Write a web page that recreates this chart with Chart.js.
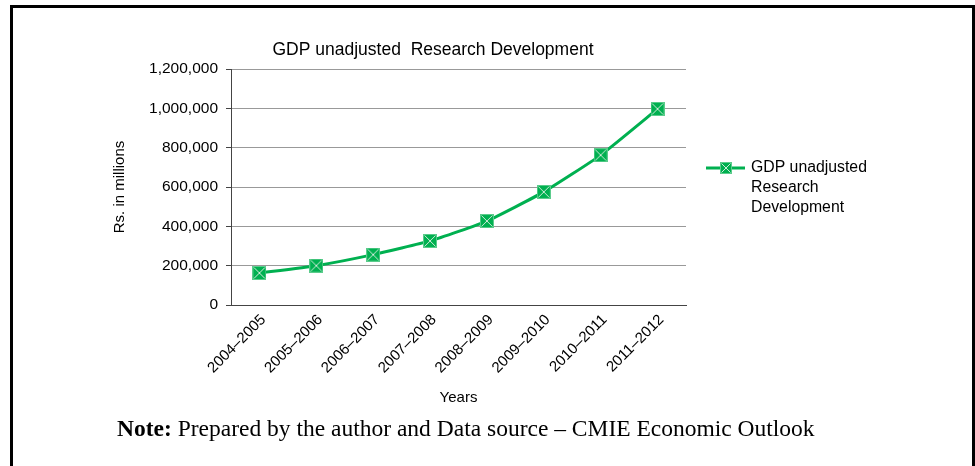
<!DOCTYPE html>
<html>
<head>
<meta charset="utf-8">
<script src="https://cdn.jsdelivr.net/npm/chart.js@4.4.1/dist/chart.umd.min.js"></script>
<style>
  html, body { margin: 0; padding: 0; background: #fff; }
  #wrap { position: relative; width: 975px; height: 466px; overflow: hidden; }
  #c { position: absolute; left: 0; top: 0; }
  #frame { position: absolute; left: 10px; top: 5px; width: 959px; height: 520px; border: 3px solid #000; pointer-events: none; }
  #note { position: absolute; left: 117px; top: 414px; font-family: "Liberation Serif", "Times New Roman", serif; font-size: 23.5px; line-height: 28px; color: #000; white-space: nowrap; }
</style>
</head>
<body>
<div id="wrap">
  <canvas id="c" width="975" height="466"></canvas>
  <div id="frame"></div>
  <div id="note"><b>Note:</b> Prepared by the author and Data source – CMIE Economic Outlook</div>
</div>
<script>
const categories = ['2004–2005', '2005–2006', '2006–2007', '2007–2008', '2008–2009', '2009–2010', '2010–2011', '2011–2012'];
const gdpValues = [163000, 200000, 256000, 326000, 427000, 575000, 762000, 997000];
const seriesLabel = 'GDP unadjusted Research Development';
const chartTitle = 'GDP unadjusted  Research Development';
const yAxisTitle = 'Rs. in millions';
const xAxisTitle = 'Years';
const yMin = 0, yMax = 1200000, yStep = 200000;

const GREEN = '#00b050';
const SANS = '"Liberation Sans", Arial, Helvetica, sans-serif';

function makeMarker(size) {
  const c = document.createElement('canvas');
  c.width = size; c.height = size;
  const g = c.getContext('2d');
  g.fillStyle = GREEN;
  g.fillRect(0, 0, size, size);
  g.strokeStyle = '#5ccc8c';
  g.lineWidth = 1;
  g.strokeRect(0.5, 0.5, size - 1, size - 1);
  g.strokeStyle = '#cfe9d8';
  g.beginPath();
  g.moveTo(1.5, 1.5); g.lineTo(size - 1.5, size - 1.5);
  g.moveTo(size - 1.5, 1.5); g.lineTo(1.5, size - 1.5);
  g.stroke();
  return c;
}
const marker = makeMarker(14);
const legendMarker = makeMarker(12);

const titlePlugin = {
  id: 'centeredTitle',
  afterDraw(chart) {
    const ctx = chart.ctx;
    ctx.save();
    ctx.font = '17.5px ' + SANS;
    ctx.fillStyle = '#000';
    ctx.textAlign = 'center';
    ctx.textBaseline = 'middle';
    ctx.fillText(chartTitle, 433, 50);
    ctx.restore();
  }
};

const legendPlugin = {
  id: 'sideLegend',
  afterDraw(chart) {
    const ctx = chart.ctx;
    const ds = chart.data.datasets[0];
    const x0 = 706, y0 = 168;
    ctx.save();
    ctx.strokeStyle = GREEN;
    ctx.lineWidth = 3;
    ctx.beginPath();
    ctx.moveTo(x0, y0); ctx.lineTo(x0 + 39, y0);
    ctx.stroke();
    ctx.drawImage(legendMarker, x0 + 20 - legendMarker.width / 2, y0 - legendMarker.height / 2);
    ctx.font = '15.8px ' + SANS;
    ctx.fillStyle = '#000';
    ctx.textBaseline = 'middle';
    ctx.textAlign = 'left';
    const words = ds.label.split(' ');
    const lines = [];
    let cur = '';
    words.forEach(w => {
      const t = cur ? cur + ' ' + w : w;
      if (ctx.measureText(t).width > 130 && cur) { lines.push(cur); cur = w; } else { cur = t; }
    });
    if (cur) lines.push(cur);
    lines.forEach((ln, i) => ctx.fillText(ln, 751, y0 + i * 20));
    ctx.restore();
  }
};

new Chart(document.getElementById('c'), {
  type: 'line',
  data: {
    labels: categories,
    datasets: [{
      label: seriesLabel,
      data: gdpValues,
      borderColor: GREEN,
      backgroundColor: GREEN,
      borderWidth: 3,
      pointStyle: marker,
      pointRadius: 7,
      tension: 0.15,
      fill: false
    }]
  },
  options: {
    responsive: false,
    animation: false,
    devicePixelRatio: 1,
    layout: { padding: { left: 107, right: 289, top: 69, bottom: 55 } },
    plugins: {
      legend: { display: false },
      tooltip: { enabled: false },
      title: { display: false }
    },
    scales: {
      x: {
        offset: true,
        grid: { display: false, drawTicks: false },
        border: { display: true, color: '#444', width: 1 },
        ticks: {
          color: '#000',
          font: { family: SANS, size: 15 },
          minRotation: 45, maxRotation: 45,
          padding: 6,
          labelOffset: 4,
          autoSkip: false
        },
        title: { display: true, text: xAxisTitle, color: '#000', font: { family: SANS, size: 15 }, padding: { top: 4, bottom: 4 } },
        afterFit(scale) { scale.height = 106; }
      },
      y: {
        min: yMin, max: yMax,
        grid: { color: '#999', lineWidth: 1, tickLength: 5, tickColor: '#444' },
        border: { display: true, color: '#444', width: 1 },
        ticks: {
          stepSize: yStep,
          color: '#000',
          font: { family: SANS, size: 15.5 },
          padding: 8,
          callback: v => Number(v).toLocaleString('en-US')
        },
        title: { display: true, text: yAxisTitle, color: '#000', font: { family: SANS, size: 15 }, padding: { top: 4, bottom: 4 } },
        afterFit(scale) { scale.width = 124; }
      }
    }
  },
  plugins: [titlePlugin, legendPlugin]
});
</script>
</body>
</html>
